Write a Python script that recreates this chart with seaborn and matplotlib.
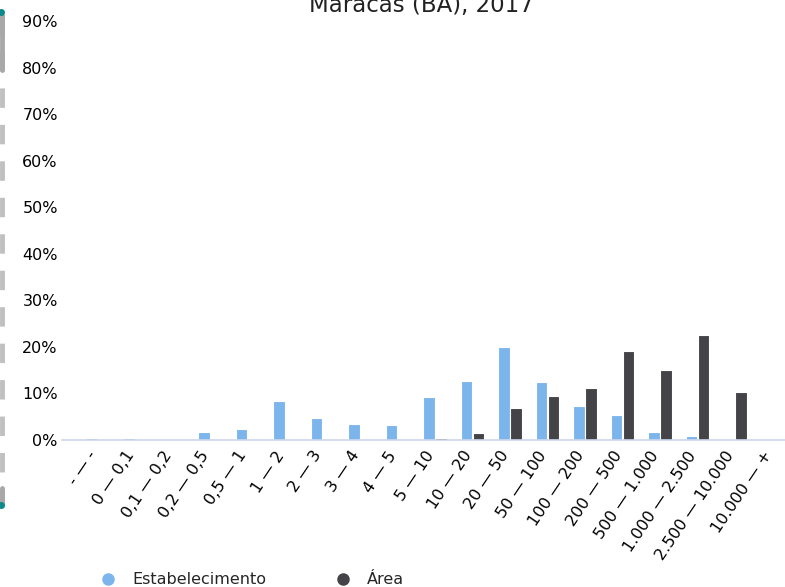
import pandas as pd
import matplotlib
matplotlib.use("Agg")
import matplotlib.pyplot as plt
import matplotlib.ticker as mticker
import matplotlib.transforms as mtransforms
from matplotlib.lines import Line2D
import seaborn as sns

categories = ['- — -', '0 — 0,1', '0,1 — 0,2', '0,2 — 0,5', '0,5 — 1', '1 — 2', '2 — 3',
              '3 — 4', '4 — 5', '5 — 10', '10 — 20', '20 — 50', '50 — 100', '100 — 200',
              '200 — 500', '500 — 1.000', '1.000 — 2.500', '2.500 — 10.000', '10.000 — +']
estabelecimento = [0.35, 0.35, 0.0, 1.7, 2.4, 8.3, 4.7, 3.4, 3.2, 9.3, 12.7, 19.9, 12.5,
                   7.4, 5.4, 1.7, 0.9, 0.0, 0.0]
area = [0.0, 0.0, 0.0, 0.0, 0.0, 0.0, 0.0, 0.0, 0.0, 0.4, 1.6, 6.8, 9.4, 11.2, 19.1,
        15.0, 22.6, 10.3, 0.0]
series = ['Estabelecimento', 'Área']
colors = ['#7cb5ec', '#434348']

df = pd.concat([
    pd.DataFrame({'Classe': categories, 'Valor': estabelecimento, 'Serie': series[0]}),
    pd.DataFrame({'Classe': categories, 'Valor': area, 'Serie': series[1]}),
])

sns.set_style("white")
plt.rcParams['font.family'] = ['DejaVu Sans']

fig = plt.figure(figsize=(7.85, 5.87), dpi=100)
ax = fig.add_axes([62 / 785, 1 - 440 / 587, 723 / 785, 419 / 587])

sns.barplot(data=df, x='Classe', y='Valor', hue='Serie', palette=colors, ax=ax,
            width=0.65, gap=0.05, saturation=1, edgecolor='white', linewidth=0.8,
            legend=False)

ax.set_ylim(0, 90)
ax.set_yticks(range(0, 91, 10))
ax.yaxis.set_major_formatter(mticker.PercentFormatter(xmax=100, decimals=0))
ax.set_xlim(-0.947, 18.33)
ax.set_xlabel('')
ax.set_ylabel('')
ax.tick_params(axis='both', length=0, labelsize=11.5, colors='#000000')
ax.tick_params(axis='y', pad=3)
ax.tick_params(axis='x', pad=9)
shift = mtransforms.ScaledTranslation(-3 / 72, 0, fig.dpi_scale_trans)
for lbl in ax.get_xticklabels():
    lbl.set_rotation(56)
    lbl.set_ha('right')
    lbl.set_va('center')
    lbl.set_rotation_mode('anchor')
    lbl.set_transform(lbl.get_transform() + shift)

for side in ['top', 'right', 'left']:
    ax.spines[side].set_visible(False)
ax.spines['bottom'].set_color('#ccd6eb')
ax.spines['bottom'].set_linewidth(1.2)

fig.text(421 / 785, 1 - 12 / 587, 'Maracás (BA), 2017', ha='center', va='baseline',
         fontsize=16.5, color='#222222')

handles = [Line2D([], [], marker='o', linestyle='', color=c, markersize=8) for c in colors]
fig.legend(handles, series, loc='center left', bbox_to_anchor=(100 / 785, 1 - 580 / 587),
           ncol=2, frameon=False, fontsize=11.5, handletextpad=1.0, columnspacing=4.3,
           borderpad=0, borderaxespad=0, handlelength=1)

# scroll bar remnant on the left edge
fig.add_artist(Line2D([2 / 785, 2 / 785], [1 - 15 / 587, 1 - 505 / 587], color='#c0c0c0',
                      lw=3.5, linestyle=(0, (4, 3.5)), transform=fig.transFigure))
fig.add_artist(Line2D([1.5 / 785, 1.5 / 785], [1 - 15 / 587, 1 - 70 / 587], color='#a8a8a8',
                      lw=3.5, transform=fig.transFigure))
fig.add_artist(Line2D([1.5 / 785, 1.5 / 785], [1 - 488 / 587, 1 - 505 / 587], color='#a8a8a8',
                      lw=3.5, transform=fig.transFigure))
fig.add_artist(Line2D([1 / 785, 1 / 785], [1 - 12 / 587, 1 - 505 / 587], color='#0a8a8a',
                      lw=0, marker='o', markersize=4, transform=fig.transFigure))

fig.savefig('out.png', dpi=100)
